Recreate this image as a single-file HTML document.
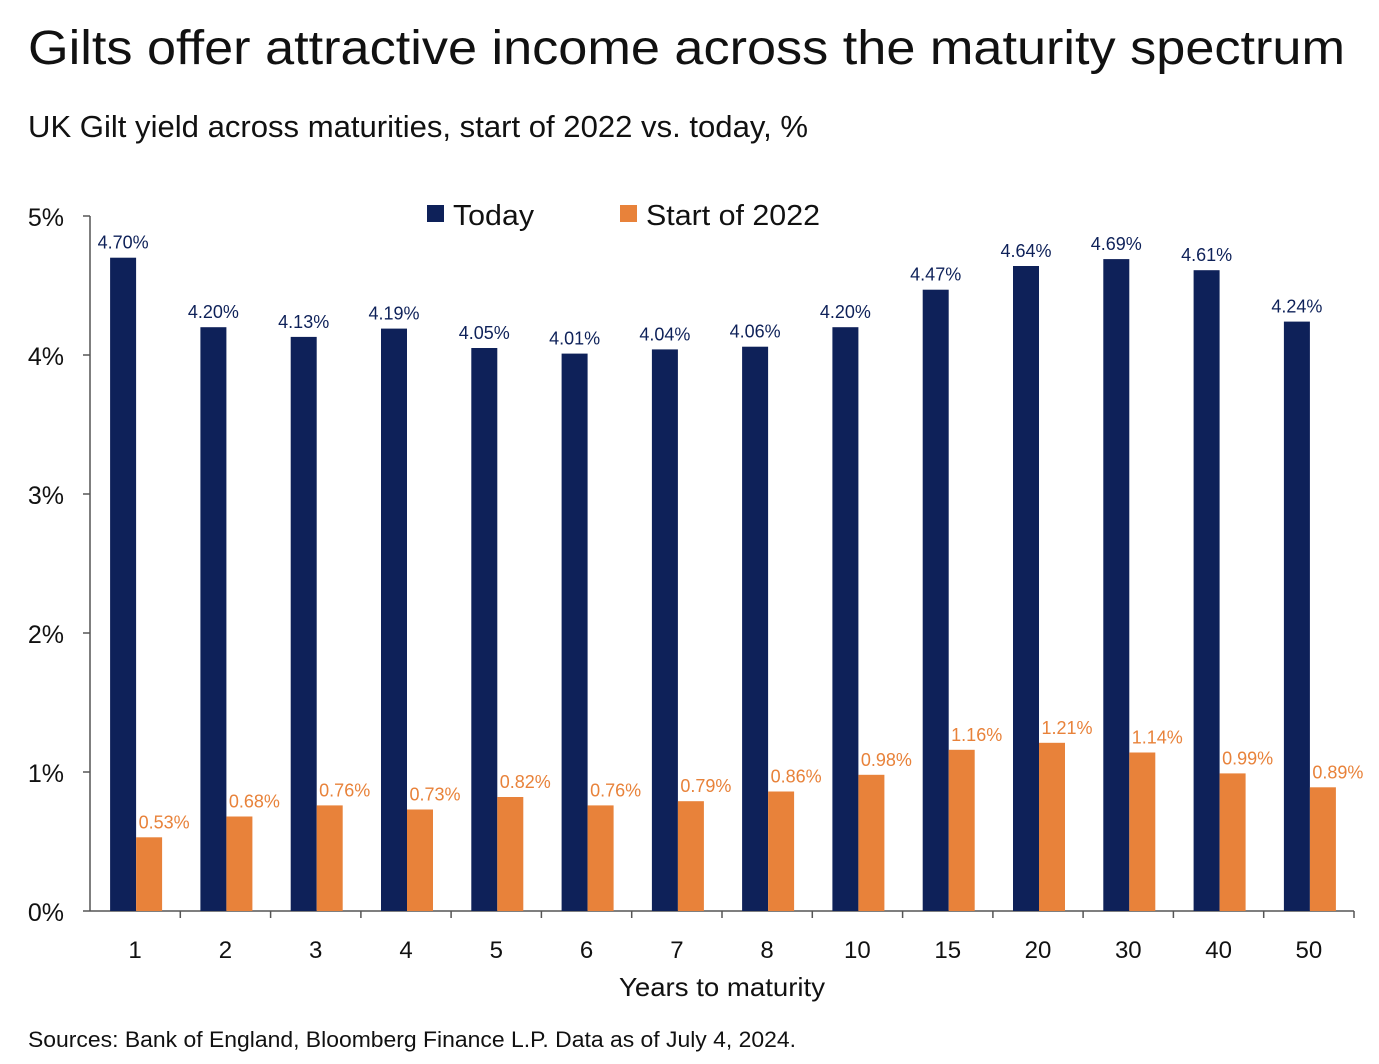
<!DOCTYPE html>
<html><head><meta charset="utf-8"><style>
html,body{margin:0;padding:0;background:#fff;}
svg{display:block;font-family:"Liberation Sans",sans-serif;}
</style></head><body>
<svg width="1379" height="1064" viewBox="0 0 1379 1064" xmlns="http://www.w3.org/2000/svg">
<text x="28" y="64" font-size="48" fill="#111" textLength="1317" lengthAdjust="spacingAndGlyphs">Gilts offer attractive income across the maturity spectrum</text>
<text x="28" y="137" font-size="31" fill="#111" textLength="780" lengthAdjust="spacingAndGlyphs">UK Gilt yield across maturities, start of 2022 vs. today, %</text>
<rect x="427" y="205" width="17" height="17" fill="#0e2159"/>
<text x="453" y="225" font-size="29" fill="#111" textLength="81" lengthAdjust="spacingAndGlyphs">Today</text>
<rect x="620" y="205" width="17" height="17" fill="#e8823a"/>
<text x="646" y="225" font-size="29" fill="#111" textLength="174" lengthAdjust="spacingAndGlyphs">Start of 2022</text>
<g font-size="25" fill="#111" text-anchor="end">
<text x="64" y="226">5%</text><text x="64" y="365">4%</text><text x="64" y="504">3%</text>
<text x="64" y="643">2%</text><text x="64" y="782">1%</text><text x="64" y="921">0%</text>
</g>
<g stroke="#555" stroke-width="1.5">
<line x1="90" y1="216" x2="90" y2="911"/>
<line x1="90" y1="911" x2="1354" y2="911"/>
<line x1="83" y1="216" x2="90" y2="216"/><line x1="83" y1="355" x2="90" y2="355"/>
<line x1="83" y1="494" x2="90" y2="494"/><line x1="83" y1="633" x2="90" y2="633"/>
<line x1="83" y1="772" x2="90" y2="772"/><line x1="83" y1="911" x2="90" y2="911"/>
<line x1="180.3" y1="911" x2="180.3" y2="918"/><line x1="270.6" y1="911" x2="270.6" y2="918"/>
<line x1="360.9" y1="911" x2="360.9" y2="918"/><line x1="451.1" y1="911" x2="451.1" y2="918"/>
<line x1="541.4" y1="911" x2="541.4" y2="918"/><line x1="631.7" y1="911" x2="631.7" y2="918"/>
<line x1="722" y1="911" x2="722" y2="918"/><line x1="812.3" y1="911" x2="812.3" y2="918"/>
<line x1="902.6" y1="911" x2="902.6" y2="918"/><line x1="992.9" y1="911" x2="992.9" y2="918"/>
<line x1="1083.1" y1="911" x2="1083.1" y2="918"/><line x1="1173.4" y1="911" x2="1173.4" y2="918"/>
<line x1="1263.7" y1="911" x2="1263.7" y2="918"/><line x1="1354" y1="911" x2="1354" y2="918"/>
</g>
<g fill="#0e2159">
<rect x="110.1" y="257.7" width="26" height="653.3"/>
<rect x="200.4" y="327.2" width="26" height="583.8"/>
<rect x="290.7" y="336.9" width="26" height="574.1"/>
<rect x="381" y="328.6" width="26" height="582.4"/>
<rect x="471.3" y="348" width="26" height="563"/>
<rect x="561.6" y="353.6" width="26" height="557.4"/>
<rect x="651.9" y="349.4" width="26" height="561.6"/>
<rect x="742.1" y="346.7" width="26" height="564.3"/>
<rect x="832.4" y="327.2" width="26" height="583.8"/>
<rect x="922.7" y="289.7" width="26" height="621.3"/>
<rect x="1013" y="266" width="26" height="645"/>
<rect x="1103.3" y="259.1" width="26" height="651.9"/>
<rect x="1193.6" y="270.2" width="26" height="640.8"/>
<rect x="1283.9" y="321.6" width="26" height="589.4"/>
</g>
<g fill="#e8823a">
<rect x="136.1" y="837.3" width="26" height="73.7"/>
<rect x="226.4" y="816.5" width="26" height="94.5"/>
<rect x="316.7" y="805.4" width="26" height="105.6"/>
<rect x="407" y="809.5" width="26" height="101.5"/>
<rect x="497.3" y="797" width="26" height="114"/>
<rect x="587.6" y="805.4" width="26" height="105.6"/>
<rect x="677.9" y="801.2" width="26" height="109.8"/>
<rect x="768.1" y="791.5" width="26" height="119.5"/>
<rect x="858.4" y="774.8" width="26" height="136.2"/>
<rect x="948.7" y="749.8" width="26" height="161.2"/>
<rect x="1039" y="742.8" width="26" height="168.2"/>
<rect x="1129.3" y="752.5" width="26" height="158.5"/>
<rect x="1219.6" y="773.4" width="26" height="137.6"/>
<rect x="1309.9" y="787.3" width="26" height="123.7"/>
</g>
<g font-size="18" fill="#0e2159" text-anchor="middle">
<text x="123.1" y="248.7">4.70%</text>
<text x="213.4" y="318.2">4.20%</text>
<text x="303.7" y="327.9">4.13%</text>
<text x="394" y="319.6">4.19%</text>
<text x="484.3" y="339">4.05%</text>
<text x="574.6" y="344.6">4.01%</text>
<text x="664.9" y="340.4">4.04%</text>
<text x="755.1" y="337.7">4.06%</text>
<text x="845.4" y="318.2">4.20%</text>
<text x="935.7" y="280.7">4.47%</text>
<text x="1026" y="257">4.64%</text>
<text x="1116.3" y="250.1">4.69%</text>
<text x="1206.6" y="261.2">4.61%</text>
<text x="1296.9" y="312.6">4.24%</text>
</g>
<g font-size="18" fill="#e8823a" text-anchor="middle">
<text x="164.1" y="828.3">0.53%</text>
<text x="254.4" y="807.5">0.68%</text>
<text x="344.7" y="796.4">0.76%</text>
<text x="435" y="800.5">0.73%</text>
<text x="525.3" y="788">0.82%</text>
<text x="615.6" y="796.4">0.76%</text>
<text x="705.9" y="792.2">0.79%</text>
<text x="796.1" y="782.5">0.86%</text>
<text x="886.4" y="765.8">0.98%</text>
<text x="976.7" y="740.8">1.16%</text>
<text x="1067" y="733.8">1.21%</text>
<text x="1157.3" y="743.5">1.14%</text>
<text x="1247.6" y="764.4">0.99%</text>
<text x="1337.9" y="778.3">0.89%</text>
</g>
<g font-size="24" fill="#111" text-anchor="middle">
<text x="135.1" y="958">1</text><text x="225.4" y="958">2</text><text x="315.7" y="958">3</text>
<text x="406" y="958">4</text><text x="496.3" y="958">5</text><text x="586.6" y="958">6</text>
<text x="676.9" y="958">7</text><text x="767.1" y="958">8</text><text x="857.4" y="958">10</text>
<text x="947.7" y="958">15</text><text x="1038" y="958">20</text><text x="1128.3" y="958">30</text>
<text x="1218.6" y="958">40</text><text x="1308.9" y="958">50</text>
</g>
<text x="722" y="996" font-size="26" fill="#111" text-anchor="middle" textLength="206" lengthAdjust="spacingAndGlyphs">Years to maturity</text>
<text x="28" y="1047" font-size="22" fill="#111" textLength="768" lengthAdjust="spacingAndGlyphs">Sources: Bank of England, Bloomberg Finance L.P. Data as of July 4, 2024.</text>
</svg>
</body></html>
